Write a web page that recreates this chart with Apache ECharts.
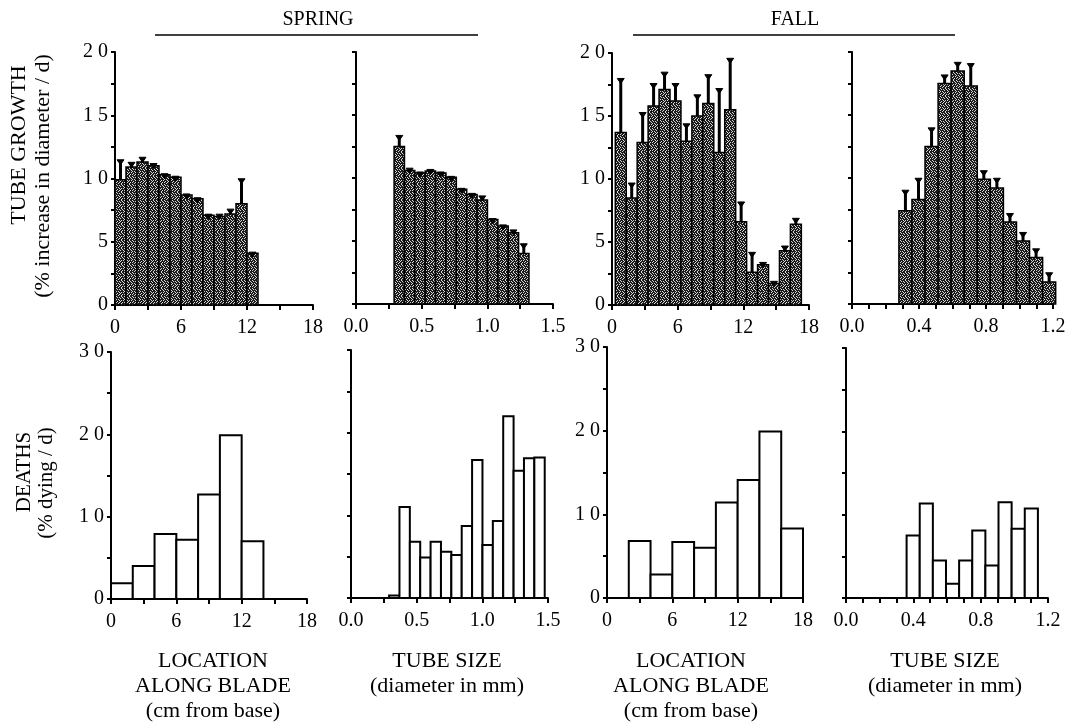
<!DOCTYPE html>
<html><head><meta charset="utf-8">
<script src="https://cdn.jsdelivr.net/npm/echarts@6/dist/echarts.min.js"></script>
<style>html,body{margin:0;padding:0;background:#fff}#c{width:1075px;height:725px}</style>
</head><body><div id="c"></div>
<script>
// ---------------- DATA ----------------
// Top row: tube growth (% increase in diameter / d), bar heights and error-bar tops
const springLocStart = 0, springLocWidth = 1;
const springLocGrowth    = [9.9, 10.9, 11.3, 11.0, 10.3, 10.1, 8.7, 8.4, 7.1, 7.0, 7.2, 8.0, 4.1];
const springLocGrowthTop = [11.4, 11.2, 11.6, 11.1, 10.3, 10.1, 8.7, 8.4, 7.1, 7.1, 7.5, 9.9, 4.1];

const springSizeStart = 0.29, springSizeWidth = 0.079;
const springSizeGrowth    = [12.5, 10.6, 10.4, 10.55, 10.4, 10.05, 9.1, 8.7, 8.25, 6.7, 6.2, 5.65, 4.0];
const springSizeGrowthTop = [13.3, 10.7, 10.4, 10.6, 10.4, 10.05, 9.1, 8.7, 8.5, 6.7, 6.2, 5.8, 4.7];

const fallLocStart = 0.3, fallLocWidth = 1;
const fallLocGrowth    = [13.7, 8.5, 12.9, 15.8, 17.1, 16.2, 13.0, 15.0, 16.0, 12.1, 15.5, 6.6, 2.6, 3.2, 1.7, 4.3, 6.4];
const fallLocGrowthTop = [17.9, 9.6, 15.2, 17.5, 18.4, 17.5, 14.3, 16.6, 18.2, 17.1, 19.5, 8.1, 4.1, 3.3, 1.8, 4.6, 6.8];

const fallSizeStart = 0.28, fallSizeWidth = 0.078;
const fallSizeGrowth    = [7.4, 8.3, 12.5, 17.5, 18.5, 17.3, 9.9, 9.2, 6.5, 5.0, 3.7, 1.75];
const fallSizeGrowthTop = [8.95, 9.9, 13.9, 18.1, 19.1, 19.0, 10.5, 9.9, 7.1, 5.6, 4.3, 2.4];

// Bottom row: deaths (% dying / d)
const springLocDeathStart = 0, springLocDeathWidth = 2;
const springLocDeaths = [1.9, 4.0, 7.9, 7.2, 12.7, 19.9, 7.0];

const springSizeDeathStart = 0.29, springSizeDeathWidth = 0.079;
const springSizeDeaths = [0.3, 11.0, 6.8, 4.9, 6.8, 5.6, 5.2, 8.7, 16.7, 6.4, 9.3, 22.0, 15.4, 16.9, 17.0];

const fallLocDeathStart = 2, fallLocDeathWidth = 2;
const fallLocDeaths = [6.8, 2.8, 6.7, 6.0, 11.4, 14.1, 19.9, 8.3];

const fallSizeDeathStart = 0.36, fallSizeDeathWidth = 0.078;
const fallSizeDeaths = [7.5, 11.35, 4.5, 1.7, 4.5, 8.1, 3.9, 11.5, 8.3, 10.75];

// Axis tick labels
const locTickLabels = [0, 6, 12, 18];
const springSizeTickLabels = [0.0, 0.5, 1.0, 1.5];
const fallSizeTickLabels = [0.0, 0.4, 0.8, 1.2];
const growthTickLabels = [0, 5, 10, 15, 20];
const deathTickLabels = [0, 10, 20, 30];

// ---------------- CHART ----------------
const FONT = '"Liberation Serif","Times New Roman",serif';

// stipple texture for the filled bars
const stippleRows = [
  '10110111', '11011010', '01101111', '11110101',
  '10101110', '01111011', '11010110', '10111101'
];
function makePattern() {
  const n = stippleRows.length;
  const c = document.createElement('canvas');
  c.width = n; c.height = n;
  const g = c.getContext('2d');
  g.fillStyle = '#d8d8d8'; g.fillRect(0, 0, n, n);
  g.fillStyle = '#1a1a1a';
  for (let j = 0; j < n; j++) for (let i = 0; i < n; i++) {
    if (stippleRows[j][i] === '1') g.fillRect(i, j, 1, 1);
  }
  return c;
}
const pattern = makePattern();

function binData(start, width, vals) {
  return vals.map((v, i) => [start + i * width, start + (i + 1) * width, v]);
}
function errData(start, width, vals, tops) {
  return vals.map((v, i) => [start + (i + 0.5) * width, v, tops[i]]);
}

const grids = [
  {left: 115, top: 52, width: 198, height: 253},
  {left: 356, top: 52, width: 197, height: 252},
  {left: 612, top: 53, width: 197, height: 252},
  {left: 852, top: 52, width: 201, height: 252},
  {left: 111, top: 352, width: 196, height: 247},
  {left: 351, top: 350, width: 197, height: 248},
  {left: 607, top: 347, width: 196, height: 251},
  {left: 846, top: 348, width: 202, height: 250}
];

function near(v, list) { return list.some(t => Math.abs(v - t) < 1e-6); }

function xAxisDef(idx, max, interval, labels, decimals) {
  return {
    type: 'value', gridIndex: idx, min: 0, max: max, interval: interval,
    axisLine: {show: true, onZero: false, lineStyle: {color: '#000', width: 2}},
    axisTick: {show: true, length: 5, lineStyle: {color: '#000', width: 2}},
    splitLine: {show: false},
    axisLabel: {
      show: true, color: '#000', fontFamily: FONT, fontSize: 20, margin: 13,
      showMinLabel: true, showMaxLabel: true, hideOverlap: false,
      formatter: v => near(v, labels) ? v.toFixed(decimals) : ''
    }
  };
}
function yAxisDef(idx, max, interval, labels, showLabels) {
  return {
    type: 'value', gridIndex: idx, min: 0, max: max, interval: interval,
    axisLine: {show: true, onZero: false, lineStyle: {color: '#000', width: 2}},
    axisTick: {show: true, length: 4, lineStyle: {color: '#000', width: 2}},
    splitLine: {show: false},
    axisLabel: {
      show: showLabels, color: '#000', fontFamily: FONT, fontSize: 20, margin: 7,
      showMinLabel: true, showMaxLabel: true, hideOverlap: false,
      formatter: v => near(v, labels) ? String(Math.round(v)).split('').join(' ') : ''
    }
  };
}

const xAxes = [
  xAxisDef(0, 18, 3, locTickLabels, 0),
  xAxisDef(1, 1.5, 0.25, springSizeTickLabels, 1),
  xAxisDef(2, 18, 3, locTickLabels, 0),
  xAxisDef(3, 1.2, 0.1, fallSizeTickLabels, 1),
  xAxisDef(4, 18, 3, locTickLabels, 0),
  xAxisDef(5, 1.5, 0.25, springSizeTickLabels, 1),
  xAxisDef(6, 18, 3, locTickLabels, 0),
  xAxisDef(7, 1.2, 0.1, fallSizeTickLabels, 1)
];
const yAxes = [
  yAxisDef(0, 20, 2.5, growthTickLabels, true),
  yAxisDef(1, 20, 2.5, growthTickLabels, false),
  yAxisDef(2, 20, 2.5, growthTickLabels, true),
  yAxisDef(3, 20, 2.5, growthTickLabels, false),
  yAxisDef(4, 30, 5, deathTickLabels, true),
  yAxisDef(5, 30, 5, deathTickLabels, false),
  yAxisDef(6, 30, 5, deathTickLabels, true),
  yAxisDef(7, 30, 5, deathTickLabels, false)
];

function barSeries(idx, data, filled) {
  return {
    type: 'custom', xAxisIndex: idx, yAxisIndex: idx, data: data,
    encode: {x: [0, 1], y: 2}, z: 2, silent: true,
    renderItem: function (params, api) {
      const p0 = api.coord([api.value(0), api.value(2)]);
      const p1 = api.coord([api.value(1), 0]);
      return {
        type: 'rect',
        shape: {x: p0[0], y: p0[1], width: p1[0] - p0[0], height: p1[1] - p0[1]},
        style: filled
          ? {fill: {image: pattern, repeat: 'repeat'}, stroke: '#000', lineWidth: 1.5}
          : {fill: '#fff', stroke: '#000', lineWidth: 2}
      };
    }
  };
}
function errSeries(idx, data) {
  return {
    type: 'custom', xAxisIndex: idx, yAxisIndex: idx, data: data,
    encode: {x: 0, y: [1, 2]}, z: 3, silent: true,
    renderItem: function (params, api) {
      const b = api.coord([api.value(0), api.value(1)]);
      const t = api.coord([api.value(0), api.value(2)]);
      const children = [];
      if (b[1] - t[1] > 1.5) {
        children.push({type: 'line', shape: {x1: b[0], y1: b[1], x2: t[0], y2: t[1]},
          style: {stroke: '#000', lineWidth: 3}});
      }
      children.push({type: 'polygon',
        shape: {points: [[t[0] - 3.5, t[1] - 1], [t[0] + 3.5, t[1] - 1], [t[0], t[1] + 4]]},
        style: {fill: '#000', stroke: '#000', lineWidth: 1}});
      return {type: 'group', children: children};
    }
  };
}

const series = [
  barSeries(0, binData(springLocStart, springLocWidth, springLocGrowth), true),
  errSeries(0, errData(springLocStart, springLocWidth, springLocGrowth, springLocGrowthTop)),
  barSeries(1, binData(springSizeStart, springSizeWidth, springSizeGrowth), true),
  errSeries(1, errData(springSizeStart, springSizeWidth, springSizeGrowth, springSizeGrowthTop)),
  barSeries(2, binData(fallLocStart, fallLocWidth, fallLocGrowth), true),
  errSeries(2, errData(fallLocStart, fallLocWidth, fallLocGrowth, fallLocGrowthTop)),
  barSeries(3, binData(fallSizeStart, fallSizeWidth, fallSizeGrowth), true),
  errSeries(3, errData(fallSizeStart, fallSizeWidth, fallSizeGrowth, fallSizeGrowthTop)),
  barSeries(4, binData(springLocDeathStart, springLocDeathWidth, springLocDeaths), false),
  barSeries(5, binData(springSizeDeathStart, springSizeDeathWidth, springSizeDeaths), false),
  barSeries(6, binData(fallLocDeathStart, fallLocDeathWidth, fallLocDeaths), false),
  barSeries(7, binData(fallSizeDeathStart, fallSizeDeathWidth, fallSizeDeaths), false)
];

function txt(x, y, s, size, rot) {
  return {type: 'text', x: x, y: y, rotation: rot || 0, silent: true,
    style: {text: s, font: size + 'px ' + FONT, fill: '#000', align: 'center', verticalAlign: 'middle'}};
}
const R = Math.PI / 2;
const graphic = [
  txt(318, 20, 'SPRING', 20),
  {type: 'line', shape: {x1: 155, y1: 35, x2: 478, y2: 35}, style: {stroke: '#000', lineWidth: 1.5}, silent: true},
  txt(795, 20, 'FALL', 20),
  {type: 'line', shape: {x1: 633, y1: 35, x2: 955, y2: 35}, style: {stroke: '#000', lineWidth: 1.5}, silent: true},
  txt(19, 145, 'TUBE GROWTH', 22, R),
  txt(43, 176, '(% increase in diameter / d)', 22, R),
  txt(24, 472, 'DEATHS', 21, R),
  txt(46, 483, '(% dying / d)', 21, R),
  txt(213, 661, 'LOCATION', 22),
  txt(213, 686, 'ALONG BLADE', 22),
  txt(213, 711, '(cm from base)', 22),
  txt(447, 661, 'TUBE SIZE', 22),
  txt(447, 686, '(diameter in mm)', 22),
  txt(691, 661, 'LOCATION', 22),
  txt(691, 686, 'ALONG BLADE', 22),
  txt(691, 711, '(cm from base)', 22),
  txt(945, 661, 'TUBE SIZE', 22),
  txt(945, 686, '(diameter in mm)', 22)
];

const chart = echarts.init(document.getElementById('c'), null, {renderer: 'canvas'});
chart.setOption({
  animation: false,
  backgroundColor: '#fff',
  grid: grids,
  xAxis: xAxes,
  yAxis: yAxes,
  series: series,
  graphic: graphic
});
</script></body></html>
